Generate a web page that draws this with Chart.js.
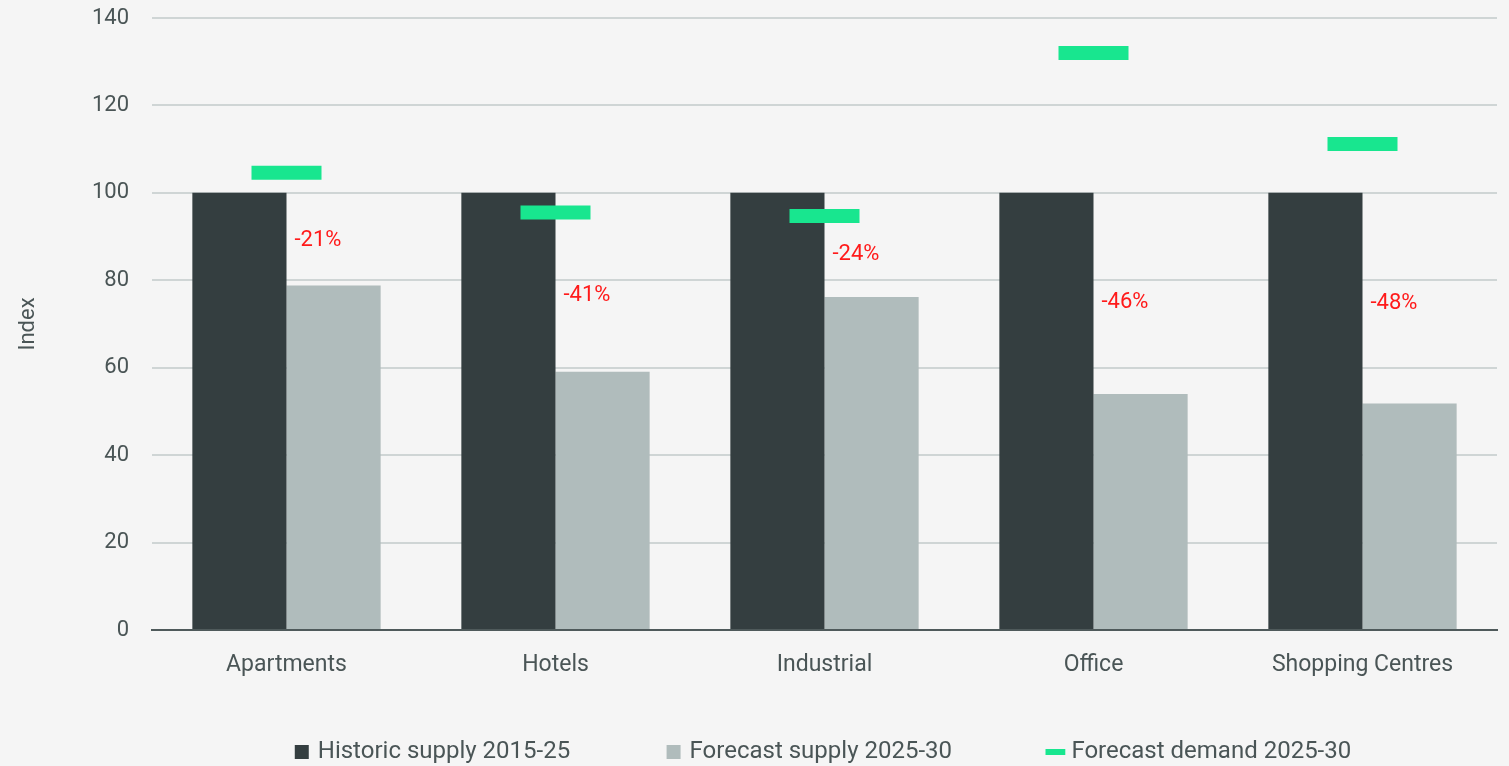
<!DOCTYPE html>
<html lang="en">
  <head>
    <meta charset="UTF-8" />
    <title>Supply vs demand index</title>
    <script src="https://cdn.jsdelivr.net/npm/chart.js@4.4.1/dist/chart.umd.min.js"></script>
    <style>
      html, body { margin: 0; padding: 0; background: #f5f5f5; }
      #wrap { width: 1509px; height: 766px; }
    </style>
  </head>
  <body>
    <div id="wrap"><canvas id="chart"></canvas></div>

    <script>
      const categories = ["Apartments", "Hotels", "Industrial", "Office", "Shopping Centres"];
      const historicSupply = [100, 100, 100, 100, 100];
      const forecastSupply = [78.8, 59.1, 76.2, 54.0, 51.8];
      const forecastDemand = [104.6, 95.5, 94.7, 132.0, 111.2];
      const changeLabels = ["-21%", "-41%", "-24%", "-46%", "-48%"];
      const changeLabelAt = [89.2, 76.6, 85.8, 74.9, 74.7];

      const textColor = "#4a5556";
      const green = "#18e68f";
      const fontFamily = "Roboto, 'Noto Sans', sans-serif";
      const legendGap = "\u2003\u2003\u2003 "; // widens the space between legend items

      // red % change text beside each forecast bar
      const changeLabelPlugin = {
        id: "changeLabels",
        afterDatasetsDraw(chart) {
          const ctx = chart.ctx;
          const meta = chart.getDatasetMeta(1);
          const y = chart.scales.y;
          ctx.save();
          ctx.font = "22px " + fontFamily;
          ctx.fillStyle = "#ff1a1a";
          ctx.textBaseline = "middle";
          ctx.textAlign = "left";
          meta.data.forEach((bar, i) => {
            const left = bar.x - bar.width / 2;
            ctx.fillText(changeLabels[i], left + 8, y.getPixelForValue(changeLabelAt[i]));
          });
          ctx.restore();
        },
      };

      new Chart(document.getElementById("chart"), {
        type: "bar",
        data: {
          labels: categories,
          datasets: [
            {
              label: "Historic supply 2015-25",
              data: historicSupply,
              backgroundColor: "#343e40",
              categoryPercentage: 0.7,
              barPercentage: 1.0,
              order: 2,
            },
            {
              label: "Forecast supply 2025-30",
              data: forecastSupply,
              backgroundColor: "#b0bcbc",
              categoryPercentage: 0.7,
              barPercentage: 1.0,
              order: 2,
            },
            {
              type: "line",
              label: "Forecast demand 2025-30",
              data: forecastDemand,
              showLine: false,
              pointStyle: "line",
              pointRadius: 35,
              pointHoverRadius: 35,
              pointBorderWidth: 14,
              pointHoverBorderWidth: 14,
              pointBorderColor: green,
              pointBackgroundColor: green,
              borderColor: green,
              backgroundColor: green,
              clip: false,
              order: 1,
            },
          ],
        },
        options: {
          responsive: true,
          maintainAspectRatio: false,
          animation: false,
          layout: { autoPadding: false, padding: { top: 18, right: 12, left: 0, bottom: -8 } },
          scales: {
            x: {
              grid: { display: false },
              border: { display: true, color: "#4f5a5b", width: 2 },
              ticks: { color: textColor, font: { family: fontFamily, size: 23 }, padding: 13 },
              afterFit(scale) {
                scale.height = 90;
              },
            },
            y: {
              min: 0,
              max: 140,
              ticks: { stepSize: 20, color: textColor, font: { family: fontFamily, size: 22 }, padding: 0 },
              grid: {
                color: "#cfd5d5",
                lineWidth: 2,
                drawTicks: true,
                tickLength: 23,
                tickColor: "rgba(0,0,0,0)",
              },
              border: { display: false },
              title: {
                display: true,
                text: "Index",
                color: textColor,
                font: { family: fontFamily, size: 22 },
                padding: { top: 15, bottom: 0 },
              },
              afterFit(scale) {
                scale.width = 152;
              },
            },
          },
          plugins: {
            tooltip: { enabled: false },
            legend: {
              position: "bottom",
              fullSize: false,
              labels: {
                color: textColor,
                font: { family: fontFamily, size: 24 },
                usePointStyle: true,
                boxWidth: 8,
                boxHeight: 14,
                padding: 20,
                sort: (a, b) => a.datasetIndex - b.datasetIndex,
                generateLabels(chart) {
                  const items = Chart.defaults.plugins.legend.labels.generateLabels(chart);
                  items.forEach((item) => {
                    if (item.datasetIndex < 2) {
                      item.pointStyle = "rect";
                      item.lineWidth = 0;
                      item.text = item.text + legendGap;
                    } else {
                      item.pointStyle = "line";
                      item.lineWidth = 6;
                      item.strokeStyle = green;
                    }
                  });
                  return items;
                },
              },
            },
          },
        },
        plugins: [changeLabelPlugin],
      });
    </script>
  </body>
</html>
